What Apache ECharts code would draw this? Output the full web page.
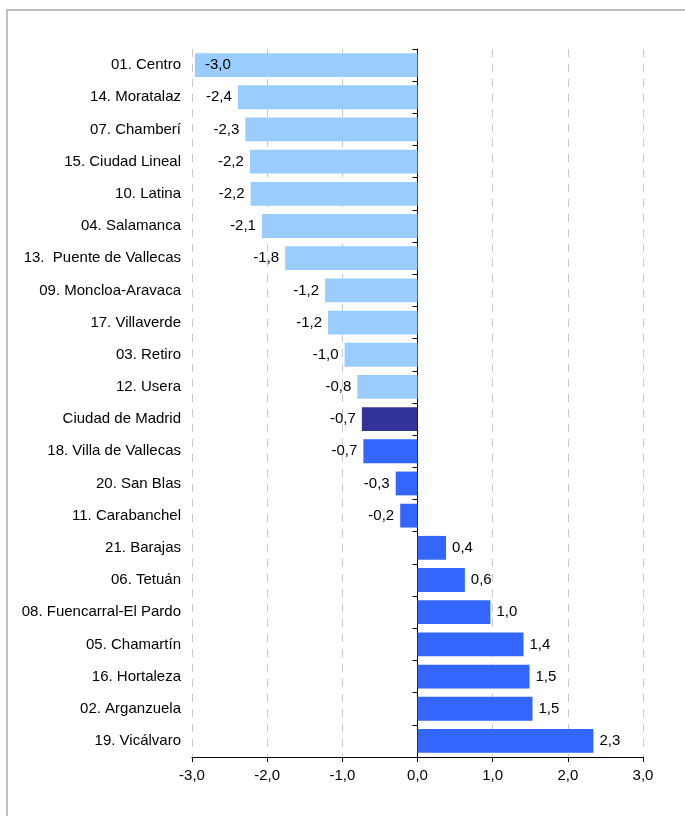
<!DOCTYPE html>
<html>
<head>
<meta charset="utf-8">
<script src="https://cdn.jsdelivr.net/npm/echarts@6/dist/echarts.min.js"></script>
<style>
  html, body { margin: 0; padding: 0; background: #fff; }
  #chart { width: 685px; height: 816px; }
</style>
</head>
<body>
<div id="chart"></div>
<script>
// distritos, de arriba abajo
const distritos = [
  "01. Centro", "14. Moratalaz", "07. Chamberí", "15. Ciudad Lineal", "10. Latina",
  "04. Salamanca", "13.  Puente de Vallecas", "09. Moncloa-Aravaca", "17. Villaverde",
  "03. Retiro", "12. Usera", "Ciudad de Madrid", "18. Villa de Vallecas", "20. San Blas",
  "11. Carabanchel", "21. Barajas", "06. Tetuán", "08. Fuencarral-El Pardo",
  "05. Chamartín", "16. Hortaleza", "02. Arganzuela", "19. Vicálvaro"
];
const variacion = [
  -2.96, -2.39, -2.29, -2.23, -2.22,
  -2.07, -1.76, -1.23, -1.19,
  -0.97, -0.80, -0.74, -0.72, -0.29,
  -0.23, 0.38, 0.63, 0.97,
  1.41, 1.49, 1.53, 2.34
];
const ticksX = [-3, -2, -1, 0, 1, 2, 3];

const fmt = v => (Math.round(v * 10) / 10).toFixed(1).replace(".", ",");
const iMadrid = distritos.indexOf("Ciudad de Madrid");

const chart = echarts.init(document.getElementById("chart"));
const option = {
  animation: false,
  textStyle: { fontFamily: "Liberation Sans, Arial, sans-serif" },
  graphic: [{
    type: "rect",
    shape: { x: 7, y: 10, width: 720, height: 840 },
    style: { fill: "none", stroke: "#c0c0c0", lineWidth: 2 },
    silent: true
  }],
  grid: { left: 192, right: 42, top: 49, bottom: 59 },
  xAxis: {
    type: "value",
    min: ticksX[0],
    max: ticksX[ticksX.length - 1],
    interval: 1,
    axisLine: { show: true, lineStyle: { color: "#000", width: 1 } },
    axisTick: { show: true, length: 5, lineStyle: { color: "#000" } },
    axisLabel: { color: "#000", fontSize: 15, margin: 11, formatter: v => fmt(v) },
    splitLine: { show: true, lineStyle: { color: "#c8c8c8", type: [8, 7], width: 1 } }
  },
  yAxis: [
    {
      type: "category",
      data: distritos,
      inverse: true,
      axisLine: { show: false, onZero: false },
      axisTick: { show: false },
      axisLabel: { color: "#000", fontSize: 15, margin: 11 }
    },
    {
      type: "category",
      data: distritos,
      inverse: true,
      position: "left",
      axisLine: { show: true, onZero: true, lineStyle: { color: "#000", width: 1 } },
      axisTick: { show: true, length: 5, lineStyle: { color: "#000" } },
      axisLabel: { show: false }
    }
  ],
  series: [{
    type: "bar",
    yAxisIndex: 0,
    barCategoryGap: "26%",
    data: variacion.map((v, i) => ({
      value: v,
      itemStyle: {
        color: i === iMadrid ? "#333399" : (i < iMadrid ? "#99ccff" : "#3366ff")
      },
      label: v < -2.8
        ? { position: "insideLeft", distance: 10 }
        : { position: v < 0 ? "left" : "right" }
    })),
    label: {
      show: true,
      color: "#000",
      fontSize: 15,
      distance: 6,
      formatter: p => fmt(p.value)
    }
  }]
};
chart.setOption(option);
</script>
</body>
</html>
